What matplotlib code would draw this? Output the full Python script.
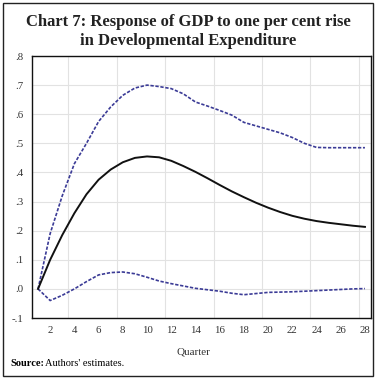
import numpy as np
import matplotlib
matplotlib.use('Agg')
import matplotlib.pyplot as plt
from matplotlib.patches import Rectangle

# impulse response data
quarters = list(range(1, 29))
response = [0.0, 0.10, 0.185, 0.26, 0.325, 0.375, 0.41, 0.435, 0.45, 0.455,
            0.452, 0.44, 0.422, 0.402, 0.38, 0.357, 0.335, 0.315, 0.296, 0.279,
            0.264, 0.251, 0.241, 0.233, 0.227, 0.222, 0.217, 0.213]
upper = [0.0, 0.19, 0.32, 0.43, 0.5, 0.575, 0.625, 0.665, 0.69, 0.70,
         0.695, 0.688, 0.67, 0.642, 0.628, 0.613, 0.597, 0.572, 0.56, 0.548,
         0.536, 0.52, 0.5, 0.486, 0.485, 0.485, 0.485, 0.485]
lower = [0.0, -0.04, -0.022, 0.0, 0.025, 0.048, 0.056, 0.058, 0.052, 0.04,
         0.027, 0.018, 0.01, 0.002, -0.003, -0.008, -0.015, -0.02, -0.016, -0.012,
         -0.011, -0.01, -0.008, -0.006, -0.004, -0.002, 0.0, 0.001]

x_ticks = list(range(2, 29, 2))
y_ticks = [-0.1, 0.0, 0.1, 0.2, 0.3, 0.4, 0.5, 0.6, 0.7, 0.8]
y_labels = ['-.1', '.0', '.1', '.2', '.3', '.4', '.5', '.6', '.7', '.8']

serif = ['Liberation Serif', 'DejaVu Serif']

fig = plt.figure(figsize=(3.77, 3.78), dpi=100)
ax = fig.add_axes([32/377, 1 - 318/378, (371 - 32)/377, (318 - 56)/378])

band_color = '#3b3b96'
ax.plot(quarters, upper, color=band_color, linestyle=(0, (2.0, 1.0)), linewidth=1.2)
ax.plot(quarters, lower, color=band_color, linestyle=(0, (2.0, 1.0)), linewidth=1.2)
ax.plot(quarters, response, color='#111111', linewidth=1.4)

ax.set_xlim(0.5, 28.5)
ax.set_ylim(-0.1, 0.8)
ax.set_xticks(x_ticks)
ax.set_yticks(y_ticks)
ax.set_yticklabels(y_labels)
ax.tick_params(length=0, labelsize=7.8, pad=6)
for lab in ax.get_xticklabels() + ax.get_yticklabels():
    lab.set_family(serif)
    lab.set_color('#333333')

# grid: horizontal at each tick, vertical between ticks
for y in y_ticks:
    ax.axhline(y, color='#e2e2e2', linewidth=0.8, zorder=0)
for x in np.arange(3.5, 28.5, 4):
    ax.axvline(x, color='#e2e2e2', linewidth=0.8, zorder=0)
for s in ax.spines.values():
    s.set_linewidth(1.0)
    s.set_color('#111111')

fig.text(193/377, 1 - 352/378, 'Quarter', ha='center', va='center',
         fontsize=8, family=serif, color='#333333')

fig.text(0.5, 1 - 22/378, 'Chart 7: Response of GDP to one per cent rise',
         ha='center', va='center', fontsize=12, fontweight='bold', family=serif,
         color='#222222')
fig.text(0.5, 1 - 41/378, 'in Developmental Expenditure',
         ha='center', va='center', fontsize=12, fontweight='bold', family=serif,
         color='#222222')

fig.text(10/377, 1 - 364/378, 'Source:', ha='left', va='center', fontsize=7.5,
         fontweight='bold', family=serif)
fig.text(45/377, 1 - 364/378, "Authors' estimates.", ha='left', va='center',
         fontsize=7.5, family=serif)

fig.patches.append(Rectangle((3/377, 2/378), 370/377, 373/378, transform=fig.transFigure,
                             fill=False, edgecolor='#222222', linewidth=1.0))

fig.savefig('out.png', dpi=100)
